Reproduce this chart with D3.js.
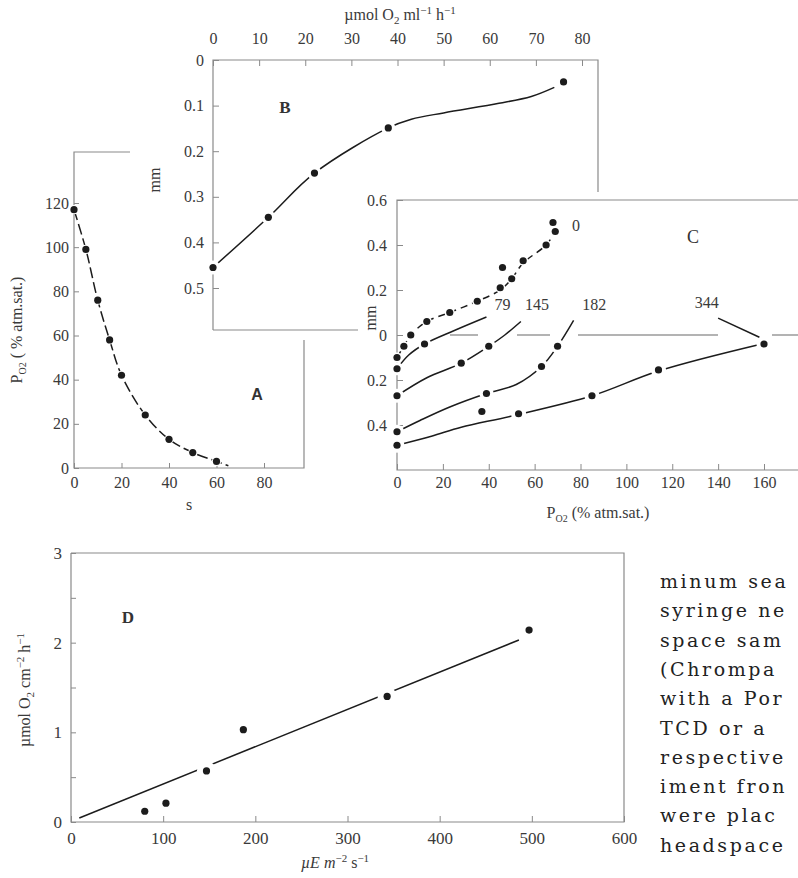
<!DOCTYPE html>
<html><head><meta charset="utf-8">
<script src="https://cdn.jsdelivr.net/npm/d3@7"></script>
<style>body{margin:0;background:#fff}svg{display:block}</style>
</head><body>
<svg id="c" width="798" height="878"></svg>
<script>
// ---------- DATA ----------
// Panel A: PO2 decline in time
const aTime = [0, 5, 10, 15, 20, 30, 40, 50, 60];
const aPO2  = [117, 99, 76, 58, 42, 24, 13, 7, 3];
const aCurveTime = [0, 5, 10, 15, 20, 30, 40, 50, 60, 65];
const aCurvePO2  = [117, 99, 76, 58, 42, 24, 13, 7, 3, 1];
const aXTicks = [0, 20, 40, 60, 80];
const aYTicks = [0, 20, 40, 60, 80, 100, 120];

// Panel B: depth vs O2 rate
const bRate  = [0, 12, 22, 38, 76];
const bDepth = [0.455, 0.345, 0.248, 0.149, 0.048];
const bCurveRate  = [0, 12, 22, 38, 43, 50, 62, 69, 74];
const bCurveDepth = [0.455, 0.345, 0.248, 0.149, 0.13, 0.116, 0.095, 0.08, 0.06];
const bXTicks = [0, 10, 20, 30, 40, 50, 60, 70, 80];
const bYTicks = [0, 0.1, 0.2, 0.3, 0.4, 0.5];

// Panel C: depth profiles of PO2 at different irradiances
const cSeriesNames = ["0", "79", "145", "182", "344"];
const c0X  = [0, 3, 6, 13, 23, 35, 45, 46, 50, 55, 65, 68, 69];
const c0Y  = [-0.10, -0.05, 0.0, 0.06, 0.10, 0.15, 0.21, 0.30, 0.25, 0.33, 0.40, 0.50, 0.46];
const c0CurveX = [0, 3, 6, 13, 23, 35, 45, 50, 55, 65, 69];
const c0CurveY = [-0.10, -0.05, 0.0, 0.06, 0.10, 0.15, 0.20, 0.25, 0.32, 0.40, 0.46];
const c79X = [0, 12];
const c79Y = [-0.15, -0.04];
const c79CurveX = [0, 5, 12, 25, 39];
const c79CurveY = [-0.15, -0.09, -0.04, 0.02, 0.08];
const c145X = [0, 28, 40];
const c145Y = [-0.27, -0.125, -0.05];
const c145CurveX = [0, 13, 28, 40, 47, 54];
const c145CurveY = [-0.27, -0.19, -0.125, -0.05, 0.0, 0.06];
const c182X = [0, 39, 63, 70];
const c182Y = [-0.43, -0.26, -0.14, -0.05];
const c182CurveX = [0, 10, 23, 39, 52, 63, 70, 77];
const c182CurveY = [-0.43, -0.38, -0.32, -0.26, -0.22, -0.14, -0.05, 0.065];
const c344X = [0, 37, 53, 85, 114, 160];
const c344Y = [-0.49, -0.34, -0.35, -0.27, -0.155, -0.04];
const c344CurveX = [0, 15, 28, 50, 85, 114, 159];
const c344CurveY = [-0.49, -0.45, -0.41, -0.36, -0.27, -0.16, -0.04];
const c344LeaderX = [158, 140];
const c344LeaderY = [-0.01, 0.075];
const cLabelX = [78, 46, 61, 86, 135];
const cLabelY = [0.49, 0.14, 0.14, 0.14, 0.145];
const cXTicks = [0, 20, 40, 60, 80, 100, 120, 140, 160];
const cYTicks = [-0.4, -0.2, 0, 0.2, 0.4, 0.6];

// Panel D: O2 production vs irradiance
const dIrr  = [80, 103, 147, 187, 343, 497];
const dRate = [0.12, 0.21, 0.57, 1.03, 1.40, 2.14];
const dFitIrr  = [9, 486];
const dFitRate = [0.045, 2.03];
const dXTicks = [0, 100, 200, 300, 400, 500, 600];
const dYTicks = [0, 0.5, 1, 1.5, 2, 2.5, 3];
const dYLabels = [0, 1, 2, 3];

// Side text
const sideText = ["minum sea", "syringe ne", "space sam", "(Chrompa", "with a Por",
                  "TCD or a", "respective", "iment fron", "were plac", "headspace"];

// ---------- DRAW ----------
const svg = d3.select("#c");
const serif = "'Liberation Serif','Times New Roman',serif";
const TXT = "#3a3a3a", FRAME = "#8a8a8a", INK = "#1c1c1c";

function styleAxis(g, size) {
  g.select(".domain").remove();
  g.selectAll(".tick line").attr("stroke", FRAME).attr("stroke-width", 1);
  g.selectAll(".tick text").attr("fill", TXT).attr("font-family", serif).attr("font-size", size || 16);
}
function frame(pts) {
  svg.append("path").attr("d", d3.line()(pts)).attr("fill", "none")
    .attr("stroke", FRAME).attr("stroke-width", 1.2);
}
function dots(xs, ys, sx, sy, halo) {
  svg.append("g").selectAll("circle").data(xs).join("circle")
    .attr("cx", (d) => sx(d)).attr("cy", (d, i) => sy(ys[i])).attr("r", 3.6)
    .attr("fill", INK).attr("stroke", "#fff").attr("stroke-width", halo)
    .attr("paint-order", "stroke");
}
function curve(xs, ys, sx, sy, dash, curveType) {
  const ln = d3.line().x((d) => sx(d)).y((d, i) => sy(ys[i]))
    .curve(curveType || d3.curveCatmullRom.alpha(0.5));
  svg.append("path").attr("d", ln(xs)).attr("fill", "none").attr("stroke", INK)
    .attr("stroke-width", 1.5).attr("stroke-dasharray", dash || null);
}

// ---- Panel B ----
const xB = d3.scaleLinear([0, 80], [213, 582]);
const yB = d3.scaleLinear([0, 0.5], [60, 288]);
frame([[213, 330], [213, 60], [598, 60], [598, 200]]);
frame([[213, 330], [400, 330]]);
styleAxis(svg.append("g").attr("transform", "translate(0,60)")
  .call(d3.axisTop(xB).tickValues(bXTicks).tickSizeInner(-6).tickSizeOuter(0).tickPadding(16)));
styleAxis(svg.append("g").attr("transform", "translate(213,0)")
  .call(d3.axisLeft(yB).tickValues(bYTicks).tickFormat((d) => d === 0 ? "0" : d3.format(".1f")(d))
    .tickSizeInner(-6).tickSizeOuter(0).tickPadding(9)));
curve(bCurveRate, bCurveDepth, xB, yB);
dots(bRate, bDepth, xB, yB, 7);
svg.append("text").attr("x", 400).attr("y", 20).attr("text-anchor", "middle")
  .attr("font-family", serif).attr("font-size", 16).attr("fill", TXT)
  .html('µmol O<tspan font-size="11" dy="4">2</tspan><tspan dy="-4"> ml</tspan><tspan font-size="11" dy="-6">−1</tspan><tspan dy="6"> h</tspan><tspan font-size="11" dy="-6">−1</tspan>');
svg.append("text").attr("transform", "translate(160,180) rotate(-90)").attr("text-anchor", "middle")
  .attr("font-family", serif).attr("font-size", 16).attr("fill", TXT).text("mm");
svg.append("text").attr("x", 285).attr("y", 113).attr("text-anchor", "middle")
  .attr("font-family", serif).attr("font-size", 17).attr("font-weight", "bold").attr("fill", "#333").text("B");

// ---- Panel C (white background covers B) ----
svg.append("rect").attr("x", 358).attr("y", 192).attr("width", 440).attr("height", 330).attr("fill", "#fff");
const xC = d3.scaleLinear([0, 160], [397, 764]);
const yC = d3.scaleLinear([-0.6, 0.6], [470, 200]);
frame([[798, 200], [397, 200], [397, 470], [798, 470]]);
svg.append("line").attr("x1", 397).attr("x2", 798).attr("y1", yC(0)).attr("y2", yC(0))
  .attr("stroke", "#9a9a9a").attr("stroke-width", 1.5).attr("stroke-dasharray", "0 53 28 39 33 28 140 54 40");
styleAxis(svg.append("g").attr("transform", "translate(0,470)")
  .call(d3.axisBottom(xC).tickValues(cXTicks).tickSizeInner(-6).tickSizeOuter(0).tickPadding(7)));
styleAxis(svg.append("g").attr("transform", "translate(397,0)")
  .call(d3.axisLeft(yC).tickValues(cYTicks).tickFormat((d) => d === 0 ? "0" : d3.format(".1f")(Math.abs(d)))
    .tickSizeInner(-6).tickSizeOuter(0).tickPadding(10)));
curve(c0CurveX, c0CurveY, xC, yC, "7 5");
curve(c79CurveX, c79CurveY, xC, yC);
curve(c145CurveX, c145CurveY, xC, yC);
curve(c182CurveX, c182CurveY, xC, yC);
curve(c344CurveX, c344CurveY, xC, yC);
curve(c344LeaderX, c344LeaderY, xC, yC, null, d3.curveLinear);
dots(c0X, c0Y, xC, yC, 3);
dots(c79X, c79Y, xC, yC, 6);
dots(c145X, c145Y, xC, yC, 7);
dots(c182X, c182Y, xC, yC, 7);
dots(c344X, c344Y, xC, yC, 8);
svg.append("g").selectAll("text").data(cSeriesNames).join("text")
  .attr("x", (d, i) => xC(cLabelX[i])).attr("y", (d, i) => yC(cLabelY[i]) + 6)
  .attr("text-anchor", "middle").attr("font-family", serif).attr("font-size", 16).attr("fill", TXT)
  .text((d) => d);
svg.append("text").attr("x", xC(129)).attr("y", yC(0.44) + 7).attr("text-anchor", "middle")
  .attr("font-family", serif).attr("font-size", 18).attr("fill", "#333").text("C");
svg.append("text").attr("transform", "translate(376,318) rotate(-90)").attr("text-anchor", "middle")
  .attr("font-family", serif).attr("font-size", 16).attr("fill", TXT).text("mm");
svg.append("text").attr("x", 598).attr("y", 518).attr("text-anchor", "middle")
  .attr("font-family", serif).attr("font-size", 16).attr("fill", TXT)
  .html('P<tspan font-size="10" dy="4">O2</tspan><tspan dy="-4"> (% atm.sat.)</tspan>');

// ---- Panel A ----
const xA = d3.scaleLinear([0, 80], [74, 264]);
const yA = d3.scaleLinear([0, 120], [468, 203]);
frame([[130, 152], [74, 152], [74, 468], [304, 468], [304, 340]]);
styleAxis(svg.append("g").attr("transform", "translate(0,468)")
  .call(d3.axisBottom(xA).tickValues(aXTicks).tickSizeInner(-5).tickSizeOuter(0).tickPadding(9)));
styleAxis(svg.append("g").attr("transform", "translate(74,0)")
  .call(d3.axisLeft(yA).tickValues(aYTicks).tickSizeInner(-5).tickSizeOuter(0).tickPadding(5)));
curve(aCurveTime, aCurvePO2, xA, yA, "11 4");
dots(aTime, aPO2, xA, yA, 2);
svg.append("text").attr("x", 189).attr("y", 510).attr("text-anchor", "middle")
  .attr("font-family", serif).attr("font-size", 16).attr("fill", TXT).text("s");
svg.append("text").attr("transform", "translate(22,330) rotate(-90)").attr("text-anchor", "middle")
  .attr("font-family", serif).attr("font-size", 16).attr("fill", TXT)
  .html('P<tspan font-size="10" dy="4">O2</tspan><tspan dy="-4"> ( % atm.sat.)</tspan>');
svg.append("text").attr("x", 257).attr("y", 400).attr("text-anchor", "middle")
  .attr("font-family", "'Liberation Sans',Arial,sans-serif").attr("font-size", 16).attr("font-weight", "bold")
  .attr("fill", "#333").text("A");

// ---- Panel D ----
const xD = d3.scaleLinear([0, 600], [71, 624]);
const yD = d3.scaleLinear([0, 3], [822, 553]);
frame([[71, 553], [624, 553], [624, 822], [71, 822], [71, 553]]);
styleAxis(svg.append("g").attr("transform", "translate(0,822)")
  .call(d3.axisBottom(xD).tickValues(dXTicks).tickSizeInner(-6).tickSizeOuter(0).tickPadding(10)), 17);
styleAxis(svg.append("g").attr("transform", "translate(71,0)")
  .call(d3.axisLeft(yD).tickValues(dYTicks).tickFormat((d) => dYLabels.includes(d) ? d : "")
    .tickSizeInner(-5).tickSizeOuter(0).tickPadding(9)), 17);
curve(dFitIrr, dFitRate, xD, yD, null, d3.curveLinear);
dots(dIrr, dRate, xD, yD, 12);
svg.append("text").attr("x", 128).attr("y", 623).attr("text-anchor", "middle")
  .attr("font-family", serif).attr("font-size", 17).attr("font-weight", "bold").attr("fill", "#333").text("D");
svg.append("text").attr("transform", "translate(30,690) rotate(-90)").attr("text-anchor", "middle")
  .attr("font-family", serif).attr("font-size", 16).attr("fill", TXT)
  .html('µmol O<tspan font-size="11" dy="4">2</tspan><tspan dy="-4"> cm</tspan><tspan font-size="11" dy="-6">−2</tspan><tspan dy="6"> h</tspan><tspan font-size="11" dy="-6">−1</tspan>');
svg.append("text").attr("x", 335).attr("y", 868).attr("text-anchor", "middle")
  .attr("font-family", serif).attr("font-size", 16).attr("font-style", "italic").attr("fill", TXT)
  .html('µE m<tspan font-size="11" dy="-6" font-style="normal">−2</tspan><tspan dy="6" font-style="normal"> s</tspan><tspan font-size="11" dy="-6" font-style="normal">−1</tspan>');

// ---- Side text ----
svg.append("g").selectAll("text").data(sideText).join("text")
  .attr("x", 660).attr("y", (d, i) => 588 + i * 29.3)
  .attr("font-family", "'DejaVu Serif',serif").attr("font-size", 19).attr("letter-spacing", 2.6)
  .attr("fill", "#222").text((d) => d);
</script>
</body></html>
